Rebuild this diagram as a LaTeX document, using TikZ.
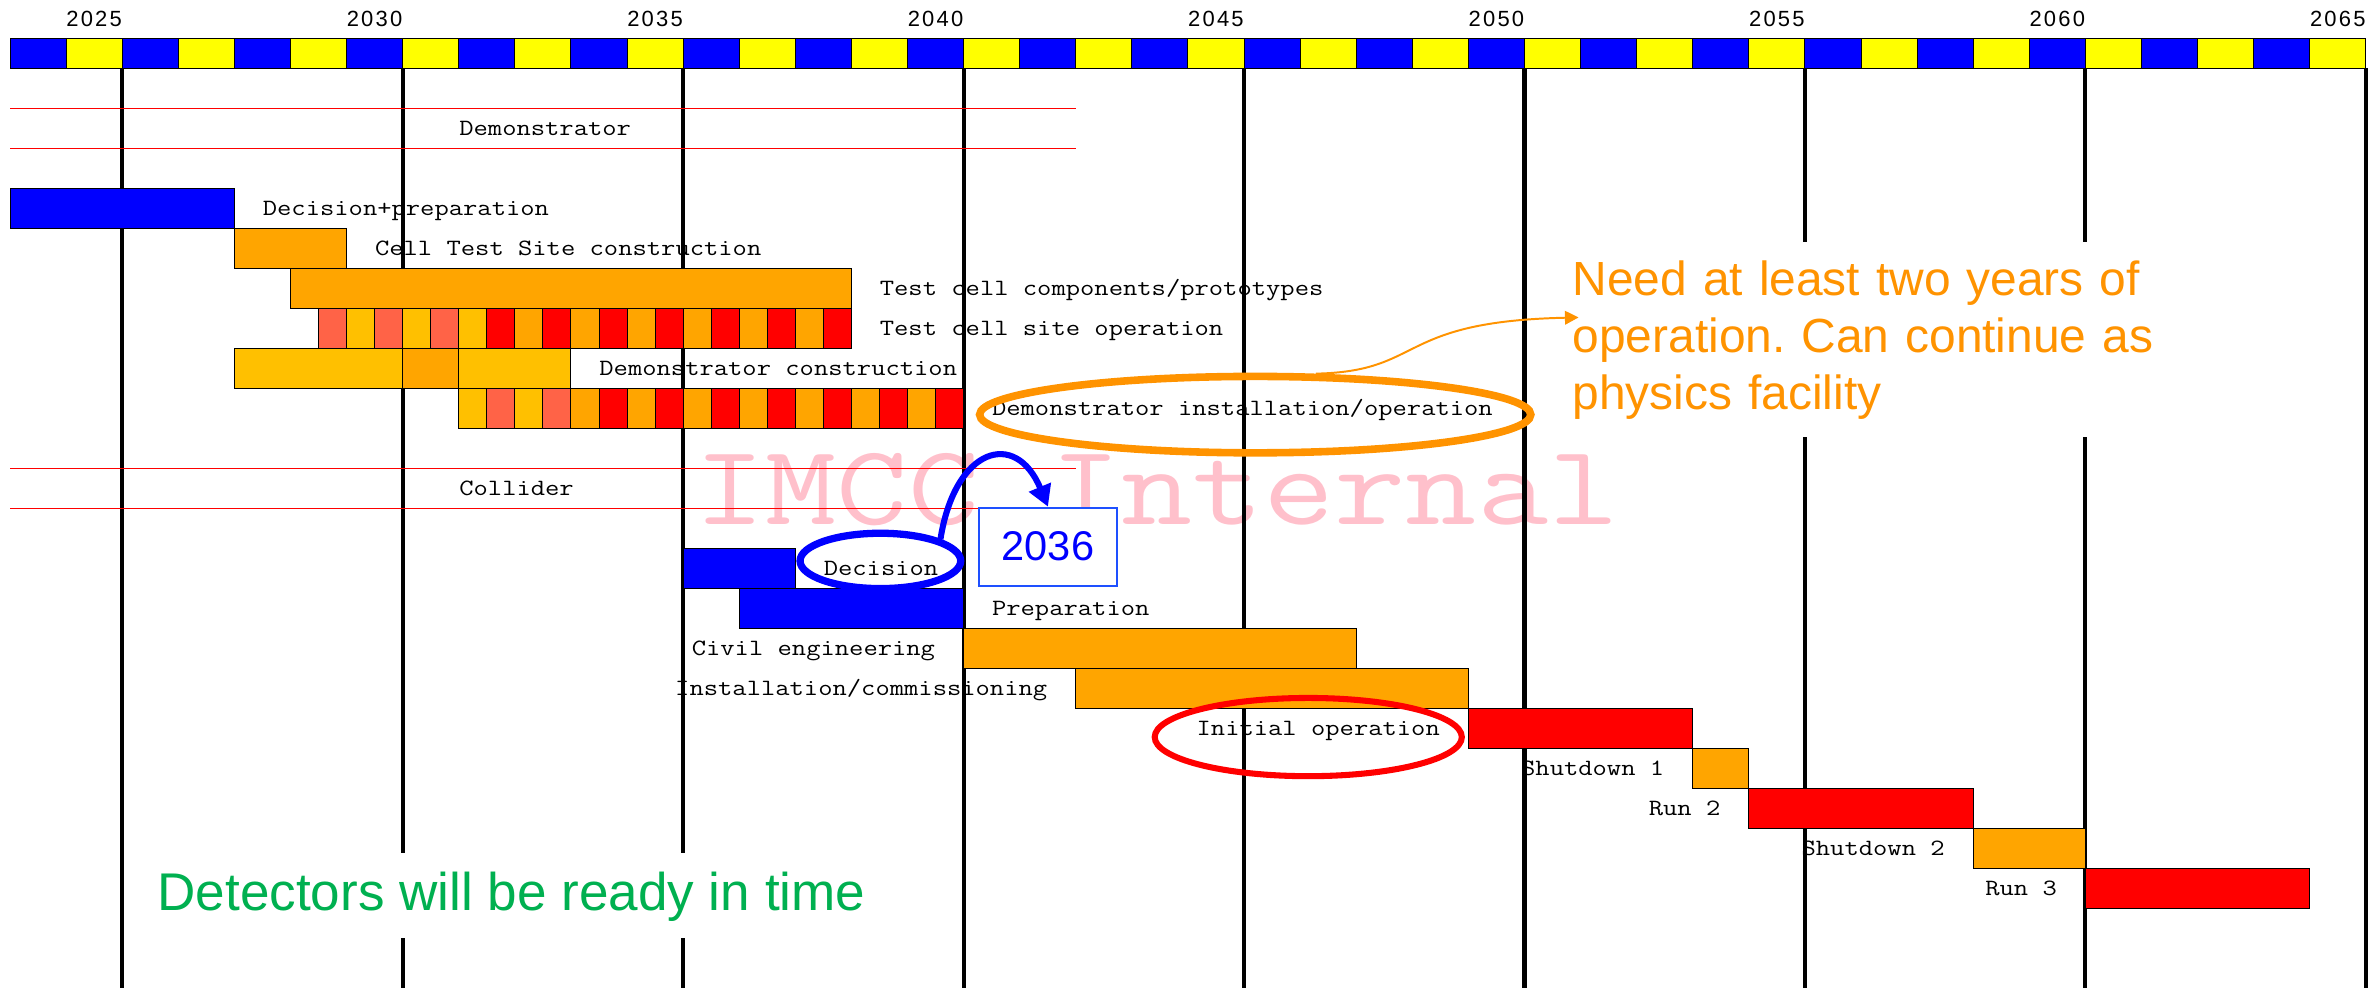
\documentclass[tikz,border=0pt]{standalone}
\usepackage{fontspec}
\usepackage{graphicx}
\usetikzlibrary{shapes.geometric,arrows.meta}
\newfontfamily\sansf{Liberation Sans}
\newfontfamily\yearf{Liberation Sans}[LetterSpace=10]
\definecolor{cblue}{RGB}{0,0,255}
\definecolor{cyel}{RGB}{255,255,0}
\definecolor{corange}{RGB}{255,165,0}
\definecolor{camber}{RGB}{255,192,0}
\definecolor{ctomato}{RGB}{255,99,71}
\definecolor{cred}{RGB}{255,0,0}
\definecolor{cpink}{RGB}{255,192,203}
\definecolor{cnote}{RGB}{255,147,0}
\definecolor{cgreen}{RGB}{0,176,80}
\definecolor{cboxblue}{RGB}{30,80,255}
\newcommand\mt[1]{\scalebox{1.19}[1]{#1}}
\newcommand\wmt[1]{\scalebox{1.21}[1]{#1}}
\tikzset{
  monofont/.style={font=\fontsize{15.4}{18}\selectfont\ttfamily},
  lab/.style={monofont, inner sep=0pt, outer sep=0pt, anchor=base west},
  labr/.style={monofont, inner sep=0pt, outer sep=0pt, anchor=base east},
  barbox/.style={draw=black, line width=0.6pt},
  yearline/.style={line width=2.7pt, black},
  hdrline/.style={cred, line width=0.8pt},
  yearlab/.style={font=\fontsize{14.5}{16}\selectfont\yearf, anchor=base, inner sep=0pt},
  ring/.style={ellipse, inner sep=0pt, fill=none},
}
\begin{document}
\begin{tikzpicture}[x=1pt, y=-1pt]
\useasboundingbox (0,0) rectangle (1568,651.7);

% watermark
\node[font=\fontsize{75.3}{80}\selectfont\ttfamily, text=cpink, anchor=base west, inner sep=0pt] (wm) at (458,346) {\wmt{IMCC Internal}};

% top year bar
\foreach \k in {0,...,41} {
  \pgfmathsetmacro\xa{6.6+37*\k}
  \pgfmathsetmacro\xb{43.6+37*\k}
  \ifodd\k \def\cc{cyel}\else\def\cc{cblue}\fi
  \path[draw=black, line width=0.6pt, fill=\cc] (\xa,25.3) rectangle (\xb,45.1);
}
\foreach \yy [evaluate=\yy as \xx using 6.6+37*(\yy-2024)+18.5] in {2025,2030,...,2065} {
  \node[yearlab] (y\yy) at (\xx,17.6) {\yy};
}

% vertical year lines
\foreach \xx in {80.6,265.6,450.6,635.6,820.6,1005.6,1190.6,1375.6,1560.6} {
  \draw[yearline] (\xx,45.1) -- (\xx,651.7);
}

% section header lines
\draw[hdrline] (6.6,71.5) -- (709.6,71.5);
\draw[hdrline] (6.6,97.9) -- (709.6,97.9);
\draw[hdrline] (6.6,309.1) -- (709.6,309.1);
\draw[hdrline] (6.6,335.5) -- (709.6,335.5);
\node[lab] (hdemo) at (303,89.2) {\mt{Demonstrator}};
\node[lab] (hcoll) at (303,326.8) {\mt{Collider}};

% demonstrator bars
\path[barbox, fill=cblue] (6.6,124.3) rectangle (154.6,150.7);
\path[barbox, fill=corange] (154.6,150.7) rectangle (228.6,177.1);
\path[barbox, fill=corange] (191.6,177.1) rectangle (561.6,203.5);
\foreach \c [count=\i from 0] in {ctomato,camber,ctomato,camber,ctomato,camber,cred,corange,cred,corange,cred,corange,cred,corange,cred,corange,cred,corange,cred} {
  \path[barbox, fill=\c] ({210.1+18.5*\i},203.5) rectangle ({228.6+18.5*\i},229.9);
}
\path[barbox, fill=camber] (154.6,229.9) rectangle (265.6,256.3);
\path[barbox, fill=corange] (265.6,229.9) rectangle (302.6,256.3);
\path[barbox, fill=camber] (302.6,229.9) rectangle (376.6,256.3);
\foreach \c [count=\i from 0] in {camber,ctomato,camber,ctomato,corange,cred,corange,cred,corange,cred,corange,cred,corange,cred,corange,cred,corange,cred} {
  \path[barbox, fill=\c] ({302.6+18.5*\i},256.3) rectangle ({321.1+18.5*\i},282.7);
}

\node[lab] (l1) at (173.4,142.0) {\mt{Decision+preparation}};
\node[lab] (l2) at (247.4,168.4) {\mt{Cell Test Site construction}};
\node[lab] (l3) at (580.4,194.8) {\mt{Test cell components/prototypes}};
\node[lab] (l4) at (580.4,221.2) {\mt{Test cell site operation}};
\node[lab] (l5) at (395.4,247.6) {\mt{Demonstrator construction}};
\node[lab] (l6) at (654.4,274.0) {\mt{Demonstrator installation/operation}};

% collider bars
\path[barbox, fill=cblue] (450.6,361.9) rectangle (524.6,388.3);
\path[barbox, fill=cblue] (487.6,388.3) rectangle (635.6,414.7);
\path[barbox, fill=corange] (635.6,414.7) rectangle (894.6,441.1);
\path[barbox, fill=corange] (709.6,441.1) rectangle (968.6,467.5);
\path[barbox, fill=cred] (968.6,467.5) rectangle (1116.6,493.9);
\path[barbox, fill=corange] (1116.6,493.9) rectangle (1153.6,520.3);
\path[barbox, fill=cred] (1153.6,520.3) rectangle (1301.6,546.7);
\path[barbox, fill=corange] (1301.6,546.7) rectangle (1375.6,573.1);
\path[barbox, fill=cred] (1375.6,573.1) rectangle (1523.6,599.5);

\node[lab] (c1) at (543.4,379.6) {\mt{Decision}};
\node[lab] (c2) at (654.4,406.0) {\mt{Preparation}};
\node[labr] (c3) at (616.8,432.4) {\mt{Civil engineering}};
\node[labr] (c4) at (690.8,458.8) {\mt{Installation/commissioning}};
\node[labr] (c5) at (949.8,485.2) {\mt{Initial operation}};
\node[labr] (c6) at (1097.8,511.6) {\mt{Shutdown 1}};
\node[labr] (c7) at (1134.8,538.0) {\mt{Run 2}};
\node[labr] (c8) at (1282.8,564.4) {\mt{Shutdown 2}};
\node[labr] (c9) at (1356.8,590.8) {\mt{Run 3}};

% highlight rings
\node[ring, draw=cblue, line width=4.8pt, minimum width=106pt, minimum height=36.5pt] (decE) at (580.75,370) {};
\node[ring, draw=cnote, line width=5pt, minimum width=363.6pt, minimum height=50.4pt] (orE) at (828,273.5) {};
\node[ring, draw=cred, line width=4pt, minimum width=202.6pt, minimum height=51.6pt] (redE) at (863,486.2) {};

% annotation texts
\node[fill=white, text=cnote, font=\fontsize{31.6}{37.7}\selectfont\sansf\frenchspacing, text width=400pt, align=left, inner xsep=9pt, inner ysep=12pt, outer sep=0pt, anchor=base west] (note) at (1028.4,194.6) {Need at least two years of\\operation. Can continue as\\physics facility};
\node[fill=white, text=cgreen, font=\fontsize{35}{40}\selectfont\sansf, inner xsep=10pt, inner ysep=0pt, text height=37.7pt, text depth=18.3pt, outer sep=0pt, anchor=base west] (det) at (94,600.7) {Detectors will be ready in time};

\node[draw=cboxblue, line width=1.3pt, fill=white, minimum width=90.6pt, minimum height=51.4pt, inner sep=0pt, text=cblue, font=\fontsize{27.4}{30}\selectfont\sansf] (b2036) at (691.3,360.6) {2036};

% arrows
\coordinate (ortip) at (1041.3,209.4);
\draw[cnote, line width=1.3pt, -{Triangle[length=9pt,width=9pt]}] (orE.34) .. controls (940,245) and (920,212) .. (ortip);
\draw[cblue, line width=4pt, -{Triangle[length=14pt,width=15pt]}] (decE.20) .. controls (630,295) and (670,283) .. (b2036.north);
\end{tikzpicture}
\end{document}
